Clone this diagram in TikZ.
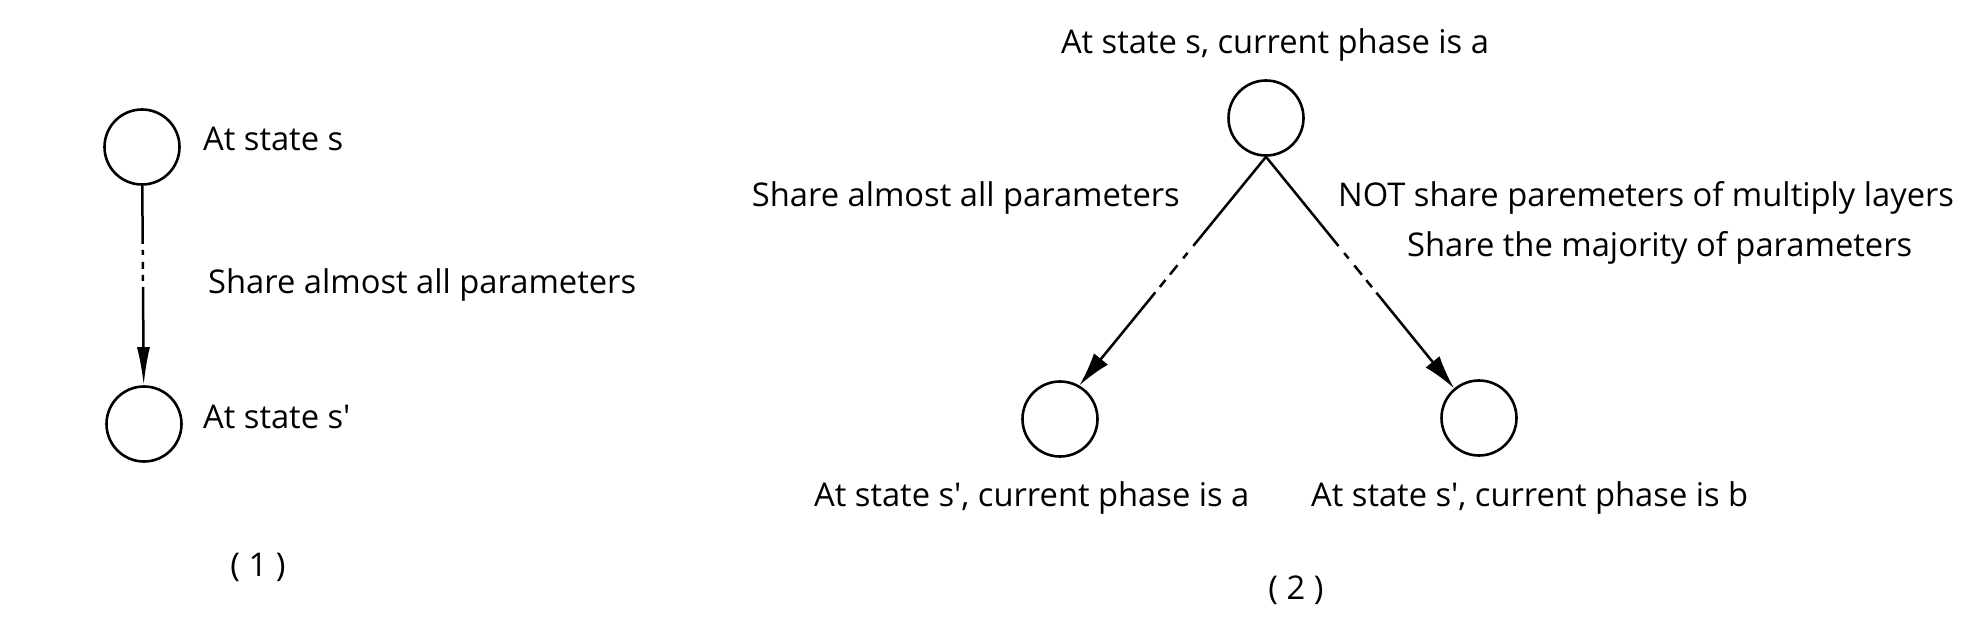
\documentclass[tikz,border=0pt]{standalone}
\usepackage{fontspec}
\setmainfont{Open Sans}
\usetikzlibrary{arrows.meta}
\newcommand\apos{\textquotesingle}
\begin{document}
\begin{tikzpicture}[x=1pt,y=-1pt,
  state/.style={draw,circle,minimum size=75pt,inner sep=0pt,line width=2.6pt},
  lbl/.style={inner sep=0pt,font=\fontsize{32.7}{38}\selectfont},
  tipone/.style={line width=2.5pt,-{Latex[length=38pt,width=13pt]}},
  tiptwo/.style={line width=2.5pt,-{Latex[length=34pt,width=18pt]}},
  gapone/.style={dash pattern=on 58pt off 6pt on 5pt off 7pt on 7pt off 6pt on 6pt off 6pt on 300pt},
  gaptwo/.style={dash pattern=on 115pt off 9pt on 7pt off 9pt on 12pt off 7pt on 9pt off 7pt on 300pt}]
\useasboundingbox (0,0) rectangle (1968,644);
% (1)
\node[state] (s) at (142,147) {};
\node[state] (sp) at (144,424) {};
\node[lbl,anchor=base west] (ls) at (203,151) {At state s};
\node[lbl,anchor=base west] (lsp) at (203,428) {At state s\apos};
\node[lbl,anchor=base west] (share) at (208,294) {Share almost all parameters};
\node[lbl,anchor=base] (one) at (258,576) {( 1 )};
\draw[tipone,gapone] (s) -- (sp);
% (2)
\node[state] (top) at (1266,118) {};
\node[state] (pa) at (1060,419) {};
\node[state] (pb) at (1479,418) {};
\node[lbl,anchor=base] (ltop) at (1275,54) {At state s, current phase is a};
\node[lbl,anchor=base west] (lpa) at (814,506) {At state s\apos, current phase is a};
\node[lbl,anchor=base west] (lpb) at (1311,506) {At state s\apos, current phase is b};
\node[lbl,anchor=base east] (sharea) at (1180,207) {Share almost all parameters};
\node[lbl,anchor=base west] (notb) at (1338,207) {NOT share paremeters of multiply layers};
\node[lbl,anchor=base west] (shareb) at (1407,257) {Share the majority of parameters};
\node[lbl,anchor=base] (two) at (1296,599) {( 2 )};
\draw[tiptwo,gaptwo] (top.south) -- (pa.60);
\draw[tiptwo,gaptwo] (top.south) -- (pb.130);
%\draw (top) -- (pb);
\end{tikzpicture}
\end{document}
